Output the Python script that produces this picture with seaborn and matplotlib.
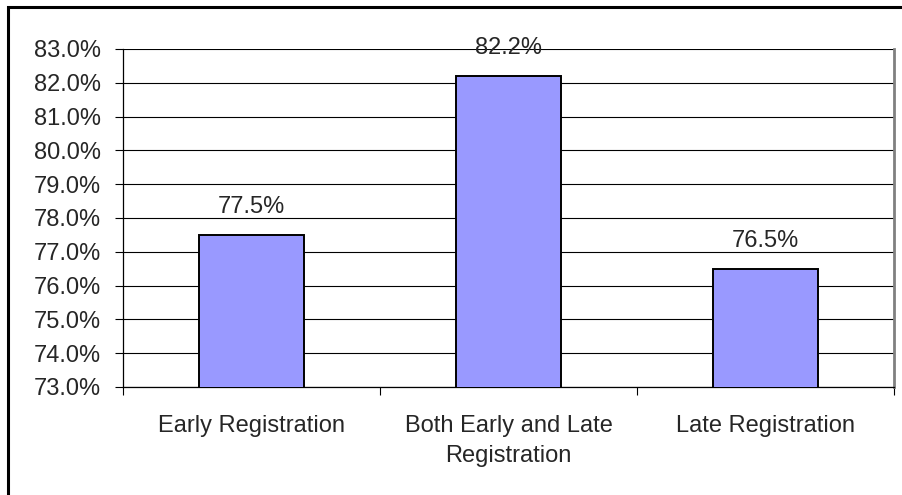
import numpy as np
import pandas as pd
import matplotlib
matplotlib.use("Agg")
import matplotlib.pyplot as plt
import seaborn as sns
from matplotlib.ticker import FuncFormatter, FixedLocator
from matplotlib.patches import Rectangle

# data
categories = ["Early Registration", "Both Early and Late\nRegistration", "Late Registration"]
rates = [0.775, 0.822, 0.765]
y_ticks = [0.73, 0.74, 0.75, 0.76, 0.77, 0.78, 0.79, 0.80, 0.81, 0.82, 0.83]

sns.set_style("white")
plt.rcParams["font.family"] = ["Liberation Sans", "DejaVu Sans"]

df = pd.DataFrame({"Group": categories, "Rate": rates})

fig = plt.figure(figsize=(9.03, 4.95), dpi=100)
ax = fig.add_axes([123 / 903, 1 - 387 / 495, (894 - 123) / 903, (387 - 49) / 495])

sns.barplot(data=df, x="Group", y="Rate", color="#9999FF", width=0.405,
            edgecolor="black", linewidth=1.4, saturation=1, ax=ax, zorder=3)

ax.set_ylim(0.73, 0.83)
ax.set_xlim(-0.5, 2.5)
ax.yaxis.set_major_locator(FixedLocator(y_ticks))
ax.yaxis.set_major_formatter(FuncFormatter(lambda v, p: f"{v * 100:.1f}%"))
ax.grid(axis="y", color="black", linewidth=0.8, zorder=0)
ax.set_axisbelow(True)

# category ticks at the boundaries, labels in the middle
ax.set_xticks([-0.5, 0.5, 1.5, 2.5])
ax.set_xticklabels([])
ax.set_xticks([0, 1, 2], minor=True)
ax.set_xticklabels(categories, minor=True, fontsize=17, linespacing=1.5)
ax.tick_params(axis="x", which="major", direction="out", length=6, width=0.8, color="black", bottom=True)
ax.tick_params(axis="x", which="minor", length=0, pad=20)
ax.tick_params(axis="y", direction="out", length=6, width=0.8, color="black", left=True,
               pad=10, labelsize=17)
ax.set_xlabel("")
ax.set_ylabel("")

for s in ["left", "bottom"]:
    ax.spines[s].set_color("black")
    ax.spines[s].set_linewidth(0.9)
ax.spines["top"].set_visible(False)
ax.spines["right"].set_color("#808080")
ax.spines["right"].set_linewidth(2)

for i, v in enumerate(rates):
    ax.annotate(f"{v * 100:.1f}%", (i, v), xytext=(0, 20), textcoords="offset points",
                ha="center", va="center", fontsize=17, zorder=4)

# outer chart border (cropped at the right and bottom)
fig.patches.append(Rectangle((8 / 903, -0.1), 1.2, 1 - 7 / 495 + 0.1, transform=fig.transFigure,
                             fill=False, edgecolor="black", linewidth=2.2))

fig.savefig("out.png", dpi=100)
